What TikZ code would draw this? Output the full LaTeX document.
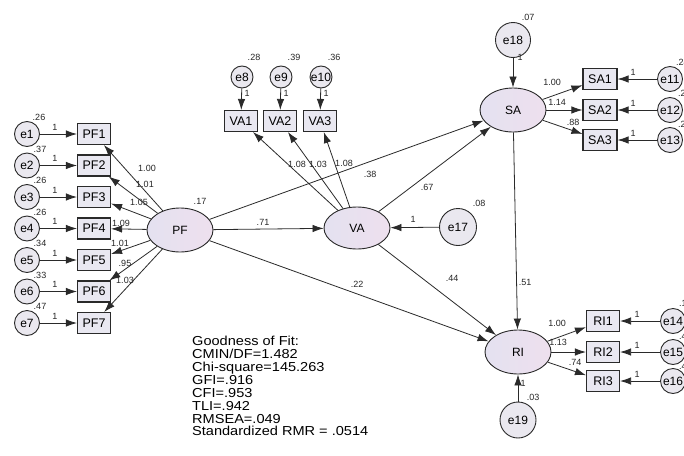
\documentclass[tikz,border=0pt]{standalone}
\usepackage{fontspec}
\setmainfont{Liberation Sans}
\newfontfamily\fitfont[FakeStretch=1.12]{Liberation Sans}
\usetikzlibrary{shapes.geometric,arrows.meta}
\definecolor{latF}{HTML}{E4E1F0}
\definecolor{latR}{HTML}{EEE0EE}
\definecolor{obsF}{HTML}{E9E8F1}
\definecolor{errF}{HTML}{EAE8EF}
\definecolor{lineB}{HTML}{2A2A2A}
\tikzset{
 lat/.style={draw=lineB, ellipse, line width=0.9pt, left color=latF, right color=latR, minimum width=66pt, minimum height=44pt, inner sep=0pt,
             font=\fontsize{12}{14}\selectfont},
 obs/.style={draw=lineB, line width=1.1pt, fill=obsF, minimum width=33pt, minimum height=21pt, inner sep=0pt,
             font=\fontsize{12.5}{14}\selectfont},
 err/.style={draw=lineB, circle, line width=0.9pt, fill=errF, minimum size=25pt, inner sep=0pt,
             font=\fontsize{12}{14}\selectfont},
 arr/.style={-{Latex[length=11pt,width=7.5pt]}, line width=0.8pt, draw=lineB},
 est/.style={font=\fontsize{9}{10}\selectfont, inner sep=0pt, text=black!85},
}
\begin{document}
\begin{tikzpicture}[x=1pt,y=-1pt]
\useasboundingbox[fill=white] (0,0) rectangle (684,455);
% latent factors
\node[lat] (PF) at (180,230) {PF};
\node[lat, minimum height=42pt] (VA) at (357,228) {VA};
\node[lat] (SA) at (513,110) {SA};
\node[lat] (RI) at (518,352) {RI};
% PF indicators
\node[obs] (PF1) at (94,134) {PF1};
\node[obs] (PF2) at (94,165.5) {PF2};
\node[obs] (PF3) at (94,197) {PF3};
\node[obs] (PF4) at (94,228.5) {PF4};
\node[obs] (PF5) at (94,260) {PF5};
\node[obs] (PF6) at (94,291.5) {PF6};
\node[obs] (PF7) at (94,323) {PF7};
\node[err] (e1) at (27,134) {e1};
\node[err] (e2) at (27,165.5) {e2};
\node[err] (e3) at (27,197) {e3};
\node[err] (e4) at (27,228.5) {e4};
\node[err] (e5) at (27,260) {e5};
\node[err] (e6) at (27,291.5) {e6};
\node[err] (e7) at (27,323) {e7};
% VA indicators
\node[obs] (VA1) at (241,121) {VA1};
\node[obs] (VA2) at (280,121) {VA2};
\node[obs] (VA3) at (320,121) {VA3};
\node[err, minimum size=22pt] (e8) at (242,77) {e8};
\node[err, minimum size=22pt] (e9) at (281,77) {e9};
\node[err, minimum size=22pt] (e10) at (321,77) {e10};
% SA indicators
\node[obs, minimum width=34pt] (SA1) at (600,79) {SA1};
\node[obs, minimum width=34pt] (SA2) at (600,110) {SA2};
\node[obs, minimum width=34pt] (SA3) at (600,140) {SA3};
\node[err] (e11) at (670,79) {e11};
\node[err] (e12) at (670,110) {e12};
\node[err] (e13) at (670,140) {e13};
% RI indicators
\node[obs] (RI1) at (603,321) {RI1};
\node[obs] (RI2) at (603,352) {RI2};
\node[obs] (RI3) at (603,381) {RI3};
\node[err] (e14) at (673,321) {e14};
\node[err] (e15) at (673,352) {e15};
\node[err] (e16) at (673,381) {e16};
% disturbances
\node[err, minimum size=37pt] (e17) at (458,227) {e17};
\node[err, minimum size=35pt] (e18) at (513,40) {e18};
\node[err, minimum size=36pt] (e19) at (518,420) {e19};
% arrows
\draw[arr] (e1) -- (PF1);
\draw[arr] (e2) -- (PF2);
\draw[arr] (e3) -- (PF3);
\draw[arr] (e4) -- (PF4);
\draw[arr] (e5) -- (PF5);
\draw[arr] (e6) -- (PF6);
\draw[arr] (e7) -- (PF7);
\draw[arr] (PF) -- (PF1);
\draw[arr] (PF) -- (PF2);
\draw[arr] (PF) -- (PF3);
\draw[arr] (PF) -- (PF4);
\draw[arr] (PF) -- (PF5);
\draw[arr] (PF) -- (PF6);
\draw[arr] (PF) -- (PF7);
\draw[arr] (e8) -- (VA1);
\draw[arr] (e9) -- (VA2);
\draw[arr] (e10) -- (VA3);
\draw[arr] (VA) -- (VA1);
\draw[arr] (VA) -- (VA2);
\draw[arr] (VA) -- (VA3);
\draw[arr] (e11) -- (SA1);
\draw[arr] (e12) -- (SA2);
\draw[arr] (e13) -- (SA3);
\draw[arr] (SA) -- (SA1);
\draw[arr] (SA) -- (SA2);
\draw[arr] (SA) -- (SA3);
\draw[arr] (e14) -- (RI1);
\draw[arr] (e15) -- (RI2);
\draw[arr] (e16) -- (RI3);
\draw[arr] (RI) -- (RI1);
\draw[arr] (RI) -- (RI2);
\draw[arr] (RI) -- (RI3);
\draw[arr] (PF) -- (VA);
\draw[arr] (PF) -- (SA);
\draw[arr] (PF) -- (RI);
\draw[arr] (VA) -- (SA);
\draw[arr] (VA) -- (RI);
\draw[arr] (SA) -- (RI);
\draw[arr] (e17) -- (VA);
\draw[arr] (e18) -- (SA);
\draw[arr] (e19) -- (RI);
% variances
\node[est] (v1) at (39,117) {.26};
\node[est] (v2) at (40,149) {.37};
\node[est] (v3) at (40,180) {.26};
\node[est] (v4) at (40,212) {.26};
\node[est] (v5) at (40,243) {.34};
\node[est] (v6) at (40,275) {.33};
\node[est] (v7) at (40,306) {.47};
\node[est] (v8) at (254,57) {.28};
\node[est] (v9) at (294,57) {.39};
\node[est] (v10) at (334,57) {.36};
\node[est, anchor=west] (v11) at (676,62) {.24};
\node[est, anchor=west] (v12) at (678,93) {.25};
\node[est, anchor=west] (v13) at (678,124) {.25};
\node[est, anchor=west] (v14) at (679,303) {.15};
\node[est, anchor=west] (v15) at (679,336) {.45};
\node[est, anchor=west] (v16) at (679,366) {.42};
\node[est] (v17) at (479,203) {.08};
\node[est] (v18) at (528,17) {.07};
\node[est] (v19) at (533,397) {.03};
\node[est] (vPF) at (200,201) {.17};
% fixed paths
\node[est] (f1) at (55,127) {1};
\node[est] (f2) at (55,158.5) {1};
\node[est] (f3) at (55,190) {1};
\node[est] (f4) at (55,221.5) {1};
\node[est] (f5) at (55,253) {1};
\node[est] (f6) at (55,284.5) {1};
\node[est] (f7) at (55,316) {1};
\node[est] (f8) at (247,93) {1};
\node[est] (f9) at (286,93) {1};
\node[est] (f10) at (326,93) {1};
\node[est] (f11) at (633,72) {1};
\node[est] (f12) at (633,103) {1};
\node[est] (f13) at (633,133) {1};
\node[est] (f14) at (637,314) {1};
\node[est] (f15) at (637,345) {1};
\node[est] (f16) at (637,374) {1};
\node[est] (f17) at (413,219) {1};
\node[est] (f18) at (520,57) {1};
\node[est] (f19) at (523,383) {1};
% loadings
\node[est] (l1) at (147,168) {1.00};
\node[est] (l2) at (145,184) {1.01};
\node[est] (l3) at (139,202) {1.05};
\node[est] (l4) at (121,223) {1.09};
\node[est] (l5) at (120,243) {1.01};
\node[est] (l6) at (125,263) {.95};
\node[est] (l7) at (125,280) {1.03};
\node[est] (l8) at (297,164) {1.08};
\node[est] (l9) at (318,164) {1.03};
\node[est] (l10) at (344,163) {1.08};
\node[est] (l11) at (552,82) {1.00};
\node[est] (l12) at (557,102) {1.14};
\node[est] (l13) at (573,122) {.88};
\node[est] (l14) at (557,323) {1.00};
\node[est] (l15) at (558,342) {1.13};
\node[est] (l16) at (575,362) {.74}; 
% structural paths
\node[est] (b1) at (263,222) {.71};
\node[est] (b2) at (370,174) {.38};
\node[est] (b3) at (357,284) {.22};
\node[est] (b4) at (427,187) {.67};
\node[est] (b5) at (452,278) {.44};
\node[est] (b6) at (525,282) {.51};
% fit indices
\node[anchor=north west, align=left, inner sep=0pt, font=\fitfont\fontsize{13}{12.9}\selectfont] (fit) at (192,336)
 {Goodness of Fit:\\ CMIN/DF=1.482\\ Chi-square=145.263\\ GFI=.916\\ CFI=.953\\ TLI=.942\\ RMSEA=.049\\ Standardized RMR = .0514};
\end{tikzpicture}
\end{document}
